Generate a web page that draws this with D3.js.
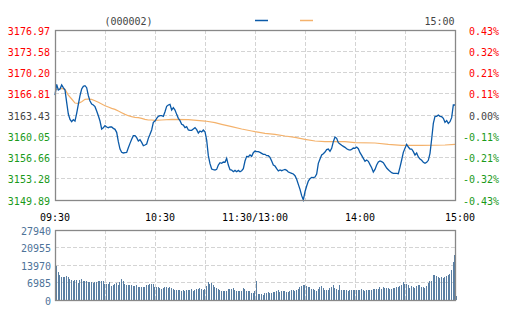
<!DOCTYPE html>
<html>
<head>
<meta charset="utf-8">
<script src="https://d3js.org/d3.v7.min.js"></script>
<style>
    body { margin: 0; background: #fff; }
    text { font-family: "DejaVu Sans Mono", "Liberation Mono", monospace; font-size: 10px; }
</style>
</head>
<body>
<div id="chart"></div>
<script>
// tick labels
var timeLabels = ["09:30", "10:30", "11:30/13:00", "14:00", "15:00"];
var timeIndex = [0, 60, 120, 180, 240];
var priceTicks = [3176.97, 3173.58, 3170.20, 3166.81, 3163.43, 3160.05, 3156.66, 3153.28, 3149.89];
var pctTicks = ["0.43%", "0.32%", "0.21%", "0.11%", "0.00%", "-0.11%", "-0.21%", "-0.32%", "-0.43%"];
var volTicks = [27940, 20955, 13970, 6985, 0];
var code = "(000002)";
var lastTime = "15:00";

// minute price, 241 points
var price = [
    3166.61, 3168.31, 3167.41, 3167.57, 3168.21, 3167.78, 3167.41, 3165.45, 3163.59, 3162.74,
    3162.37, 3162.69, 3162.47, 3163.69, 3165.13, 3166.51, 3167.57, 3167.99, 3168.10, 3167.78,
    3166.51, 3165.66, 3165.18, 3165.02, 3164.76, 3164.07, 3163.32, 3162.47, 3161.20, 3161.41,
    3161.73, 3161.52, 3161.41, 3161.52, 3161.52, 3161.30, 3161.15, 3160.67, 3159.18, 3158.01,
    3157.48, 3157.38, 3157.43, 3157.48, 3158.22, 3158.91, 3159.55, 3160.14, 3160.14, 3159.82,
    3159.29, 3159.50, 3159.07, 3158.54, 3158.65, 3158.81, 3159.71, 3160.35, 3161.04, 3162.26,
    3162.47, 3162.90, 3163.22, 3163.32, 3163.32, 3163.22, 3163.96, 3164.81, 3165.02, 3165.13,
    3164.22, 3164.60, 3164.22, 3163.53, 3162.90, 3162.53, 3161.94, 3161.83, 3161.41, 3161.57,
    3161.04, 3160.99, 3160.99, 3161.20, 3161.41, 3161.09, 3160.56, 3160.88, 3160.72, 3161.04,
    3160.77, 3159.45, 3156.95, 3155.68, 3154.83, 3154.72, 3154.67, 3154.77, 3155.46, 3155.83,
    3155.73, 3155.94, 3155.89, 3156.52, 3155.46, 3154.72, 3154.67, 3154.40, 3154.61, 3154.40,
    3154.61, 3154.40, 3154.56, 3154.88, 3156.10, 3156.84, 3156.79, 3157.06, 3156.84, 3157.43,
    3157.69, 3157.59, 3157.59, 3157.48, 3157.32, 3157.16, 3157.16, 3156.95, 3156.95, 3156.68,
    3156.10, 3155.46, 3155.30, 3154.88, 3154.51, 3154.67, 3154.56, 3154.67, 3154.77, 3154.61,
    3154.35, 3154.24, 3154.14, 3154.03, 3153.76, 3153.18, 3152.38, 3151.59, 3150.58, 3149.89,
    3151.21, 3152.12, 3152.91, 3153.29, 3153.50, 3153.45, 3153.55, 3154.03, 3155.73, 3156.42,
    3157.06, 3157.27, 3157.53, 3157.91, 3158.01, 3157.64, 3158.12, 3159.18, 3159.92, 3159.71,
    3159.02, 3158.81, 3158.60, 3158.44, 3158.28, 3158.06, 3157.91, 3157.85, 3157.96, 3158.17,
    3158.12, 3158.33, 3158.06, 3157.43, 3157.00, 3156.52, 3156.05, 3156.26, 3156.05, 3155.52,
    3155.04, 3154.35, 3154.77, 3155.46, 3155.94, 3156.10, 3155.99, 3155.83, 3155.41, 3154.99,
    3154.72, 3154.45, 3154.24, 3154.14, 3154.14, 3154.14, 3154.08, 3155.14, 3156.26, 3157.48,
    3158.12, 3158.76, 3158.33, 3158.01, 3158.01, 3157.59, 3157.06, 3157.37, 3156.74, 3156.42,
    3156.21, 3155.89, 3155.73, 3155.89, 3156.21, 3157.32, 3159.60, 3162.10, 3163.22, 3163.22,
    3163.43, 3163.22, 3163.16, 3162.90, 3162.26, 3162.53, 3162.10, 3162.37, 3163.00, 3165.02,
    3165.02
];

// average price line, read at these minutes
var avgMinute = [0, 2, 4, 6, 8, 10, 12, 14, 16, 18, 20, 22, 24, 26, 28, 30, 32, 34, 36, 38,
    40, 42, 44, 46, 48, 50, 52, 54, 56, 58, 60, 64, 70, 80, 90, 96, 100, 106, 112, 118,
    120, 126, 132, 138, 144, 150, 156, 162, 168, 174, 180, 192, 200, 208, 220, 234, 240];
var avgPrice = [3167.41, 3167.57, 3167.68, 3167.52, 3166.61, 3165.98, 3165.34, 3165.29, 3165.55, 3165.92,
    3165.98, 3165.92, 3165.71, 3165.45, 3165.18, 3164.91, 3164.70, 3164.49, 3164.33, 3164.07,
    3163.80, 3163.53, 3163.32, 3163.16, 3163.06, 3163.00, 3162.90, 3162.74, 3162.63, 3162.63,
    3162.58, 3162.63, 3162.74, 3162.68, 3162.47, 3162.21, 3161.94, 3161.57, 3161.20, 3160.88,
    3160.77, 3160.51, 3160.35, 3160.08, 3159.87, 3159.55, 3159.29, 3159.18, 3159.18, 3159.18,
    3159.02, 3158.97, 3158.76, 3158.60, 3158.60, 3158.65, 3158.76];

// minute volume, 241 bars
var volume = [
    13440, 11180, 9980, 9180, 9180, 9180, 9580, 9180, 8520, 7980,
    7720, 7980, 7980, 6650, 7980, 8380, 7720, 7720, 7450, 7050,
    7050, 7050, 6650, 7050, 7320, 7720, 7450, 7720, 7450, 6520,
    6520, 6520, 7050, 5720, 6120, 6520, 6650, 6120, 7050, 8520,
    7720, 6520, 6120, 6120, 5850, 6120, 5460, 5460, 5850, 5320,
    5320, 5320, 5320, 5320, 5850, 6120, 6390, 6390, 6520, 5320,
    5320, 5320, 4920, 4520, 4920, 5320, 5320, 4920, 5320, 4920,
    4520, 4130, 4130, 4130, 4130, 3730, 4130, 3730, 4130, 3990,
    3990, 4390, 3730, 3990, 4520, 4520, 4790, 4520, 4130, 4520,
    5460, 7050, 6250, 6790, 5850, 5320, 4790, 4390, 3990, 3460,
    3590, 3590, 3590, 4390, 4390, 4390, 4790, 3990, 3730, 3590,
    3730, 3590, 4660, 4260, 3590, 3590, 3590, 2790, 2790, 3590,
    7580,
    2260, 2260, 2260, 2000, 2660, 2790, 3060, 2790, 2790, 3060,
    3060, 3460, 3860, 3190, 3460, 3460, 3460, 3190, 3190, 3460,
    3860, 3860, 3460, 3990, 4390, 5060, 5720, 6120, 6120, 5720,
    5060, 5060, 4390, 4390, 3860, 3460, 4390, 5320, 5460, 4790,
    3860, 3860, 3860, 4660, 5320, 5850, 4790, 4390, 3860, 5850,
    3860, 3860, 3860, 3860, 3460, 3860, 3860, 3860, 3860, 3860,
    3860, 3990, 4390, 3860, 3460, 3860, 3860, 3990, 3860, 4260,
    4260, 4260, 4390, 5060, 4260, 5060, 4660, 4660, 4660, 4520,
    4390, 4660, 4790, 5060, 5320, 5460, 5850, 7050, 6520, 6250,
    5850, 4790, 5460, 5060, 4790, 5460, 5850, 5850, 5320, 5060,
    4660, 5460, 6790, 7450, 7450, 9850, 9850, 9450, 9180, 8780,
    9180, 8780, 9180, 9450, 9980, 10380, 12110, 15170, 18090, 1600
];

var width = 505, height = 330;
var left = 55, right = 455;
var top1 = 30, bottom1 = 200;
var top2 = 230, bottom2 = 300;

var svg = d3.select("#chart").append("svg")
    .attr("width", width)
    .attr("height", height);

var x = d3.scaleLinear().domain([0, 240]).range([left, right]);
var y = d3.scaleLinear().domain([priceTicks[8], priceTicks[0]]).range([bottom1, top1]);
var yv = d3.scaleLinear().domain([0, volTicks[0]]).range([bottom2, top2]);
var yRow = d3.scaleLinear().domain([0, 8]).range([top1, bottom1]);

//grid lines
var grid = svg.append("g")
    .attr("stroke", "#d4d4d4")
    .attr("stroke-dasharray", "4,2")
    .attr("shape-rendering", "crispEdges");

d3.range(30, 240, 30).forEach(function (m) {
    grid.append("line").attr("x1", x(m)).attr("x2", x(m)).attr("y1", top1).attr("y2", bottom1);
    grid.append("line").attr("x1", x(m)).attr("x2", x(m)).attr("y1", top2).attr("y2", bottom2);
});
d3.range(1, 8).forEach(function (k) {
    grid.append("line").attr("x1", left).attr("x2", right).attr("y1", yRow(k)).attr("y2", yRow(k));
});
volTicks.slice(1, 4).forEach(function (v) {
    grid.append("line").attr("x1", left).attr("x2", right).attr("y1", yv(v)).attr("y2", yv(v));
});

//volume bars
svg.append("g").selectAll("rect").data(volume).enter()
    .append("rect")
    .attr("x", function (d, i) { return Math.round(x(i)) + 1; })
    .attr("y", function (d) { return yv(d); })
    .attr("width", 1)
    .attr("height", function (d) { return bottom2 - yv(d); })
    .attr("fill", "#5a7fa3")
    .attr("shape-rendering", "crispEdges");

//average price line
var avgLine = d3.line()
    .x(function (d, i) { return x(avgMinute[i]); })
    .y(function (d) { return y(d); });
svg.append("path")
    .attr("d", avgLine(avgPrice))
    .attr("fill", "none")
    .attr("stroke", "#f4b26c")
    .attr("stroke-width", 1.2);

//price line
var priceLine = d3.line()
    .x(function (d, i) { return x(i); })
    .y(function (d) { return y(d); });
svg.append("path")
    .attr("d", priceLine(price))
    .attr("fill", "none")
    .attr("stroke", "#0b5aa8")
    .attr("stroke-width", 1.3);

//frames
[[top1, bottom1], [top2, bottom2]].forEach(function (f) {
    svg.append("rect")
        .attr("x", left + 0.5).attr("y", f[0] + 0.5)
        .attr("width", right - left).attr("height", f[1] - f[0])
        .attr("fill", "none")
        .attr("stroke", "#888")
        .attr("stroke-width", 1.3);
});

//price labels, left and right
function tickColor(i) {
    if (i < 4) return "#f00";
    if (i == 4) return "#444";
    return "#1a9a1a";
}
svg.append("g").selectAll("text").data(priceTicks).enter()
    .append("text")
    .attr("x", 50)
    .attr("y", function (d, i) { return yRow(i) + 4.5; })
    .attr("text-anchor", "end")
    .attr("fill", function (d, i) { return tickColor(i); })
    .text(function (d) { return d.toFixed(2); });

svg.append("g").selectAll("text").data(pctTicks).enter()
    .append("text")
    .attr("x", 499)
    .attr("y", function (d, i) { return yRow(i) + 4.5; })
    .attr("text-anchor", "end")
    .attr("fill", function (d, i) { return tickColor(i); })
    .text(function (d) { return d; });

//volume labels
svg.append("g").selectAll("text").data(volTicks).enter()
    .append("text")
    .attr("x", 51)
    .attr("y", function (d) { return yv(d) + 4.5; })
    .attr("text-anchor", "end")
    .attr("fill", "#4e7399")
    .text(function (d) { return d; });

//time labels
var timeShift = [0, 5, 0, 5, 5];
svg.append("g").selectAll("text").data(timeLabels).enter()
    .append("text")
    .attr("x", function (d, i) { return x(timeIndex[i]) + timeShift[i]; })
    .attr("y", 220.5)
    .attr("text-anchor", "middle")
    .attr("fill", "#000")
    .text(function (d) { return d; });

//header
svg.append("text").attr("x", 128.5).attr("y", 25).attr("text-anchor", "middle")
    .attr("fill", "#444").text(code);
svg.append("text").attr("x", 454.5).attr("y", 25).attr("text-anchor", "end")
    .attr("fill", "#444").text(lastTime);
svg.append("line").attr("x1", 255).attr("x2", 268).attr("y1", 20.5).attr("y2", 20.5)
    .attr("stroke", "#0b5aa8").attr("stroke-width", 1.5);
svg.append("line").attr("x1", 300).attr("x2", 313).attr("y1", 20.5).attr("y2", 20.5)
    .attr("stroke", "#f4b26c").attr("stroke-width", 1.5);
</script>
</body>
</html>
